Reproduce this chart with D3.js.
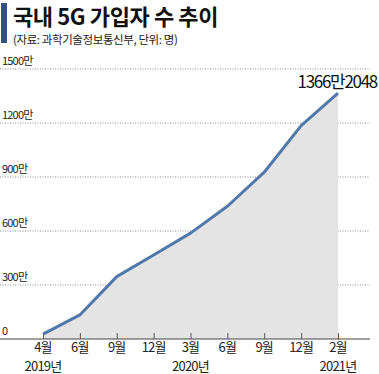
<!DOCTYPE html>
<html><head><meta charset="utf-8">
<script src="https://cdn.jsdelivr.net/npm/d3@7"></script>
<style>body{margin:0;background:#fff}svg{display:block}</style>
</head><body>
<script>
const months = ["4월","6월","9월","12월","3월","6월","9월","12월","2월"];
const years = ["2019년","","","","2020년","","","","2021년"];
const subscribers = [27, 133.6, 346.7, 466.8, 588.2, 737.6, 926.6, 1185.1, 1366.2048];
const yTicks = [0, 300, 600, 900, 1200, 1500];
const lastLabel = "1366만2048";

const W = 379, H = 374;
const svg = d3.select("body").append("svg").attr("width", W).attr("height", H);
const font = "'Noto Sans CJK KR', 'Noto Sans', sans-serif";

// title
svg.append("rect").attr("x",1).attr("y",3).attr("width",6).attr("height",40).attr("fill","#34507e");
svg.append("text").attr("x",13).attr("y",25).attr("font-family",font).attr("font-weight",700)
  .attr("font-size",22).attr("letter-spacing",-0.4).attr("fill","#111").text("국내 5G 가입자 수 추이");
svg.append("text").attr("x",13).attr("y",44).attr("font-family",font)
  .attr("font-size",11.5).attr("letter-spacing",-0.4).attr("fill","#222").text("(자료: 과학기술정보통신부, 단위: 명)");

const idx = months.map((d,i)=>i);
const x = d3.scalePoint().domain(idx).range([43, 338]);
const y = d3.scaleLinear().domain([0,1500]).range([339, 69]);

// gridlines
const grid = svg.append("g");
yTicks.filter(t=>t>0).forEach(t=>{
  grid.append("line").attr("x1",0).attr("x2",370).attr("y1",y(t)).attr("y2",y(t))
    .attr("stroke","#888").attr("stroke-width",1).attr("stroke-dasharray","1,1.5");
});
yTicks.forEach(t=>{
  svg.append("text").attr("x",2).attr("y",y(t)-4).attr("font-family",font)
    .attr("font-size",11).attr("letter-spacing",-0.8).attr("fill","#222").text(t===0?"0":t+"만");
});

// area
const area = d3.area().x((d,i)=>x(i)).y0(y(0)).y1(d=>y(d));
svg.append("path").datum(subscribers).attr("d",area).attr("fill","#e4e4e4");

// baseline axis
const xAxis = d3.axisBottom(x).tickSize(-6).tickFormat("");
const ax = svg.append("g").attr("transform",`translate(0,${y(0)})`).call(xAxis);
ax.select(".domain").remove();
ax.selectAll(".tick line").attr("stroke","#555");
svg.append("line").attr("x1",0).attr("x2",370).attr("y1",y(0)).attr("y2",y(0)).attr("stroke","#444").attr("stroke-width",1);

// line
const line = d3.line().x((d,i)=>x(i)).y(d=>y(d));
svg.append("path").datum(subscribers).attr("d",line).attr("fill","none")
  .attr("stroke","#5078aa").attr("stroke-width",3).attr("stroke-linejoin","round");

// x labels
idx.forEach(i=>{
  svg.append("text").attr("x",x(i)).attr("y",352).attr("text-anchor","middle").attr("font-family",font)
    .attr("font-size",13).attr("letter-spacing",-0.8).attr("fill","#222").text(months[i]);
  if (years[i]) svg.append("text").attr("x",x(i)).attr("y",371).attr("text-anchor","middle").attr("font-family",font)
    .attr("font-size",13).attr("letter-spacing",-0.8).attr("fill","#222").text(years[i]);
});

// annotation
svg.append("text").attr("x",377).attr("y",88).attr("text-anchor","end").attr("font-family",font)
  .attr("font-size",17).attr("letter-spacing",-1.3).attr("fill","#111").text(lastLabel);
</script>
</body></html>
